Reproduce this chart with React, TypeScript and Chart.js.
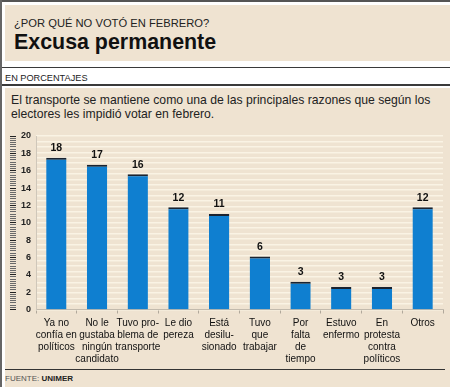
import React, { useEffect, useRef } from "react";
import { Chart, registerables } from "chart.js";

Chart.register(...registerables);

const categories: string[][] = [
  ["Ya no", "confía en", "políticos"],
  ["No le", "gustaba", "ningún", "candidato"],
  ["Tuvo pro-", "blema de", "transporte"],
  ["Le dio", "pereza"],
  ["Está", "desilu-", "sionado"],
  ["Tuvo", "que", "trabajar"],
  ["Por", "falta", "de", "tiempo"],
  ["Estuvo", "enfermo"],
  ["En", "protesta", "contra", "políticos"],
  ["Otros"],
];
const values: number[] = [17.5, 16.7, 15.6, 11.8, 11.0, 6.1, 3.2, 2.6, 2.6, 11.8];
const valueLabels: string[] = ["18", "17", "16", "12", "11", "6", "3", "3", "3", "12"];
const yMin = 0;
const yMax = 20;
const yStep = 2;

const FONT = "'Liberation Sans', Arial, Helvetica, sans-serif";
const BEIGE = "#EFE3D1";

const valueLabelPlugin = {
  id: "valueLabels",
  afterDatasetsDraw(chart: any) {
    const ctx = chart.ctx;
    const meta = chart.getDatasetMeta(0);
    ctx.save();
    ctx.font = `bold 10.5px ${FONT}`;
    ctx.fillStyle = "#111";
    ctx.textAlign = "center";
    ctx.textBaseline = "middle";
    meta.data.forEach((bar: any, i: number) => {
      ctx.fillText(valueLabels[i], bar.x, bar.y - 9.5);
    });
    ctx.restore();
  },
};

function BarChart() {
  const ref = useRef<HTMLCanvasElement | null>(null);
  useEffect(() => {
    if (!ref.current) return;
    const chart = new Chart(ref.current, {
      type: "bar",
      data: {
        labels: categories,
        datasets: [
          {
            data: values,
            backgroundColor: "#0F7FD0",
            borderColor: "#1a2330",
            borderWidth: { top: 2, left: 0, right: 0, bottom: 0 },
            borderSkipped: false,
            barPercentage: 0.5,
            categoryPercentage: 1,
            yAxisID: "y",
          },
        ],
      },
      options: {
        animation: false,
        responsive: false,
        maintainAspectRatio: false,
        layout: { padding: { top: 11, left: 5, right: 7, bottom: 0 } },
        plugins: {
          legend: { display: false },
          tooltip: { enabled: false },
        },
        scales: {
          x: {
            type: "category",
            offset: true,
            grid: {
              offset: true,
              drawOnChartArea: false,
              drawTicks: true,
              tickLength: 4,
              color: "#b0a89b",
            },
            border: { display: true, color: "#c2baad", width: 1 },
            ticks: {
              font: { family: FONT, size: 10, lineHeight: 1.2 },
              color: "#111",
              maxRotation: 0,
              minRotation: 0,
              autoSkip: false,
              padding: 4,
            },
            afterFit(scale: any) {
              scale.height = 58.5;
            },
          },
          yr: {
            type: "linear",
            position: "left",
            weight: 5,
            min: yMin,
            max: yMax,
            ticks: {
              display: true,
              stepSize: 0.25,
              maxTicksLimit: 1000,
              autoSkip: false,
              callback: () => "",
              color: "rgba(0,0,0,0)",
              padding: 0,
            },
            grid: {
              drawOnChartArea: false,
              drawTicks: true,
              tickLength: 6,
              tickWidth: 1,
              tickColor: (c: any) =>
                c.tick && Math.abs(c.tick.value % 2) < 0.001 ? "#222" : "#6a6a6a",
            },
            border: { display: false },
            afterFit(scale: any) {
              scale.width = 6;
            },
          },
          y: {
            type: "linear",
            position: "left",
            weight: 0,
            min: yMin,
            max: yMax,
            ticks: {
              stepSize: yStep,
              font: { family: FONT, size: 9, weight: "bold" },
              color: "#222",
              padding: 5,
            },
            grid: { display: false, drawTicks: false },
            border: { display: true, color: "#cfc7ba", width: 1 },
            afterFit(scale: any) {
              scale.width = 20;
            },
          },
          ys: {
            type: "linear",
            position: "right",
            min: yMin,
            max: yMax,
            ticks: { display: false, stepSize: 0.625, maxTicksLimit: 1000 },
            grid: {
              drawOnChartArea: true,
              drawTicks: false,
              color: "#FAF3E4",
              lineWidth: 1.5,
            },
            border: { display: false },
            afterFit(scale: any) {
              scale.width = 0;
            },
          },
        },
      },
      plugins: [valueLabelPlugin],
    } as any);
    return () => chart.destroy();
  }, []);
  return (
    <canvas
      ref={ref}
      width={445}
      height={243}
      style={{ position: "absolute", left: 5, top: 125, width: 445, height: 243 }}
    />
  );
}

export default function App() {
  return (
    <div
      style={{
        position: "absolute",
        left: 0,
        top: 0,
        width: 450,
        height: 387,
        background: "#fff",
        overflow: "hidden",
        fontFamily: FONT,
      }}
    >
      <div style={{ position: "absolute", left: 0, top: 0, width: 450, height: 2, background: "#555" }} />
      <div style={{ position: "absolute", left: 0, top: 0, width: 1.5, height: 387, background: "#666" }} />
      <div style={{ position: "absolute", left: 5, top: 5, width: 445, height: 56, background: BEIGE }} />
      <div
        style={{
          position: "absolute",
          left: 14,
          top: 16,
          fontSize: 11.2,
          lineHeight: "14px",
          color: "#222",
          whiteSpace: "nowrap",
        }}
      >
        ¿POR QUÉ NO VOTÓ EN FEBRERO?
      </div>
      <div
        style={{
          position: "absolute",
          left: 14,
          top: 30.8,
          fontSize: 21.4,
          lineHeight: "22px",
          fontWeight: "bold",
          color: "#111",
          whiteSpace: "nowrap",
        }}
      >
        Excusa permanente
      </div>
      <div style={{ position: "absolute", left: 2, top: 66.5, width: 448, height: 1.5, background: "#3a3a3a" }} />
      <div
        style={{
          position: "absolute",
          left: 5,
          top: 72,
          fontSize: 9.2,
          lineHeight: "12px",
          color: "#222",
          whiteSpace: "nowrap",
        }}
      >
        EN PORCENTAJES
      </div>
      <div style={{ position: "absolute", left: 2, top: 84, width: 448, height: 1.5, background: "#3a3a3a" }} />
      <div style={{ position: "absolute", left: 5, top: 88, width: 445, height: 299, background: BEIGE }} />
      <div
        style={{
          position: "absolute",
          left: 11,
          top: 92.8,
          width: 438,
          fontSize: 12.2,
          lineHeight: "14px",
          color: "#222",
          whiteSpace: "nowrap",
        }}
      >
        El transporte se mantiene como una de las principales razones que según los
        <br />
        electores les impidió votar en febrero.
      </div>
      <BarChart />
      <div style={{ position: "absolute", left: 5, top: 369, width: 440, height: 1, background: "#333" }} />
      <div
        style={{
          position: "absolute",
          left: 5,
          top: 373.5,
          fontSize: 8,
          lineHeight: "10px",
          color: "#555",
          whiteSpace: "nowrap",
        }}
      >
        FUENTE: <span style={{ fontWeight: "bold", color: "#222" }}>UNIMER</span>
      </div>
    </div>
  );
}
